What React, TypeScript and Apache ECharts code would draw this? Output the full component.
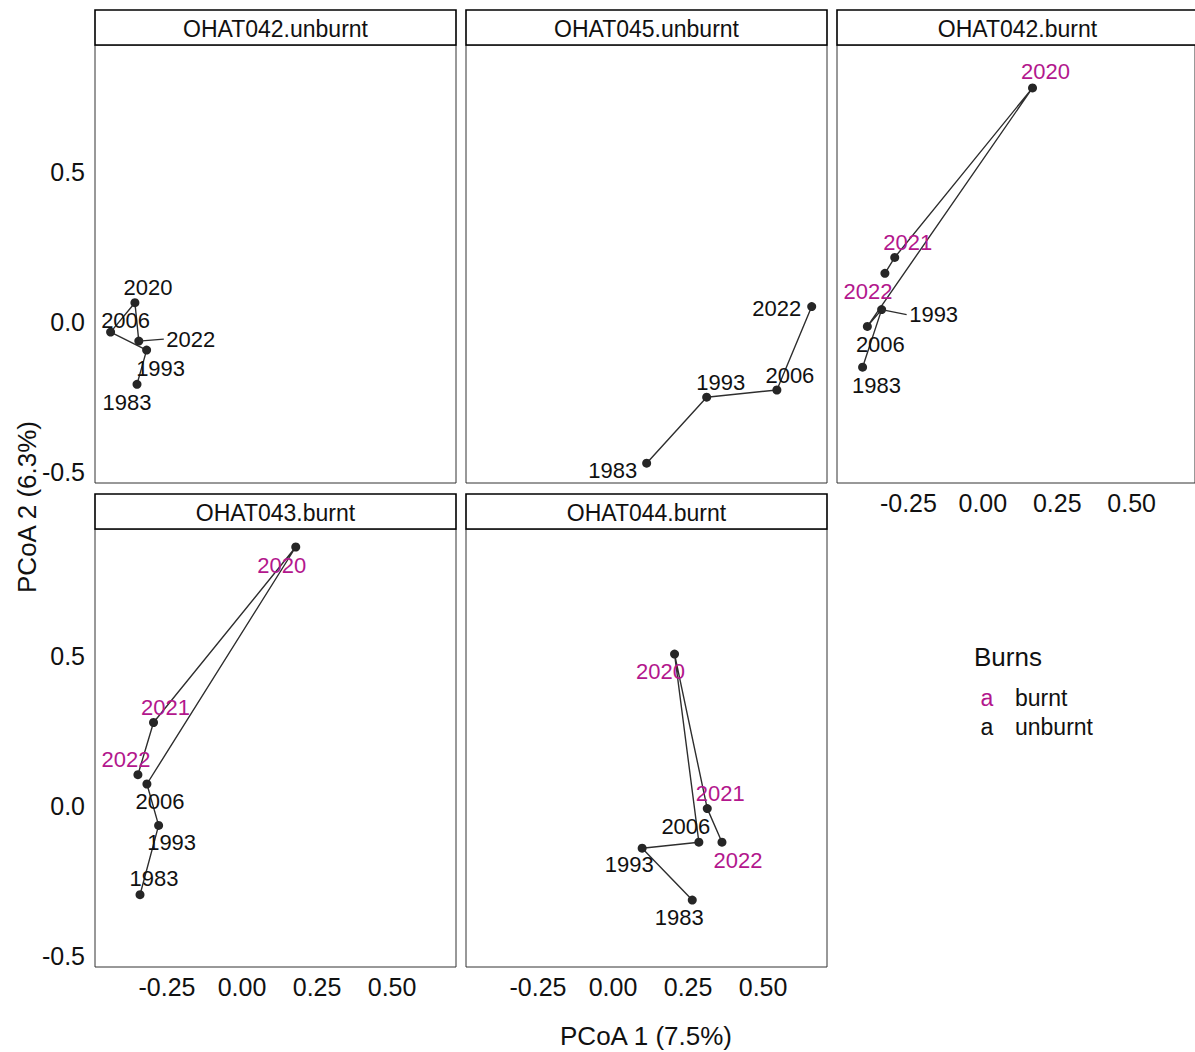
import React, { useEffect, useRef } from "react";
import * as echarts from "echarts";

// ---- data ----
const years = ["1983", "1993", "2006", "2020", "2021", "2022"];

const panelNames = [
  "OHAT042.unburnt",
  "OHAT045.unburnt",
  "OHAT042.burnt",
  "OHAT043.burnt",
  "OHAT044.burnt",
];

// PCoA 1 per panel, aligned with years (null = year not sampled)
const pc1_OHAT042_unburnt = [-0.35, -0.318, -0.438, -0.357, null, -0.344];
const pc1_OHAT045_unburnt = [0.112, 0.312, 0.546, null, null, 0.662];
const pc1_OHAT042_burnt = [-0.404, -0.34, -0.388, 0.167, -0.296, -0.329];
const pc1_OHAT043_burnt = [-0.34, -0.278, -0.317, 0.179, -0.295, -0.347];
const pc1_OHAT044_burnt = [0.264, 0.097, 0.286, 0.205, 0.314, 0.363];

// PCoA 2 per panel
const pc2_OHAT042_unburnt = [-0.208, -0.094, -0.034, 0.064, null, -0.064];
const pc2_OHAT045_unburnt = [-0.471, -0.251, -0.227, null, null, 0.051];
const pc2_OHAT042_burnt = [-0.151, 0.041, -0.015, 0.78, 0.215, 0.162];
const pc2_OHAT043_burnt = [-0.296, -0.065, 0.073, 0.863, 0.278, 0.104];
const pc2_OHAT044_burnt = [-0.314, -0.141, -0.121, 0.506, -0.009, -0.121];

// Burn status per panel and year
const burns_unburntSite = ["unburnt", "unburnt", "unburnt", "unburnt", "unburnt", "unburnt"];
const burns_burntSite = ["unburnt", "unburnt", "unburnt", "burnt", "burnt", "burnt"];

const xTicks = [-0.25, 0, 0.25, 0.5];
const yTicks = [-0.5, 0, 0.5];
const legendLabels = ["burnt", "unburnt"];

// ---- layout / style (not data) ----
const labelOffsets: (number[] | null)[][] = [
  [[-10, 18], [14, 18], [15, -12], [13, -15], null, [52, -2]],
  [[-34, 7], [14, -15], [13, -15], null, null, [-35, 2]],
  [[14, 18], [52, 5], [13, 18], [13, -16], [13, -15], [-17, 18]],
  [[14, -16], [13, 17], [13, 17], [-14, 18], [12, -15], [-12, -15]],
  [[-13, 17], [-13, 16], [-13, -16], [-14, 17], [13, -15], [16, 18]],
];
const segmentLabels = [[5], [], [1], [], []];

const FONT = "'Liberation Sans', Arial, Helvetica, sans-serif";
const MAGENTA = "#B3178D";
const TEXT = "#111111";
const colLeft = [95, 466, 837];
const rowTop = [45, 529];
const PW = 361;
const PH = 438;
const STRIP_H = 35;
const XMIN = -0.49, XMAX = 0.713, YMIN = -0.537, YMAX = 0.923;

const panelPos = [
  [0, 0],
  [1, 0],
  [2, 0],
  [0, 1],
  [1, 1],
];
const showY = [true, false, false, true, false];
const showX = [false, false, true, true, true];

export default function App() {
  const ref = useRef<HTMLDivElement>(null);

  useEffect(() => {
    if (!ref.current) return;
    const chart = echarts.init(ref.current, undefined, { renderer: "svg" });

    const pc1 = [pc1_OHAT042_unburnt, pc1_OHAT045_unburnt, pc1_OHAT042_burnt, pc1_OHAT043_burnt, pc1_OHAT044_burnt];
    const pc2 = [pc2_OHAT042_unburnt, pc2_OHAT045_unburnt, pc2_OHAT042_burnt, pc2_OHAT043_burnt, pc2_OHAT044_burnt];
    const burns = [burns_unburntSite, burns_unburntSite, burns_burntSite, burns_burntSite, burns_burntSite];

    const grids: any[] = [];
    const xAxes: any[] = [];
    const yAxes: any[] = [];
    const series: any[] = [];
    const graphics: any[] = [];

    panelNames.forEach((name, p) => {
      const [c, r] = panelPos[p];
      const left = colLeft[c];
      const top = rowTop[r];
      grids.push({
        left,
        top,
        width: PW,
        height: PH,
        show: true,
        borderColor: "#333",
        borderWidth: 1,
        backgroundColor: "transparent",
        containLabel: false,
      });
      xAxes.push({
        type: "value",
        gridIndex: p,
        min: XMIN,
        max: XMAX,
        axisLine: { show: false },
        axisTick: { show: false },
        splitLine: { show: false },
        axisLabel: {
          show: showX[p],
          customValues: xTicks,
          formatter: (v: number) => v.toFixed(2),
          fontSize: 25,
          fontFamily: FONT,
          color: TEXT,
          margin: 7,
        },
      });
      yAxes.push({
        type: "value",
        gridIndex: p,
        min: YMIN,
        max: YMAX,
        axisLine: { show: false },
        axisTick: { show: false },
        splitLine: { show: false },
        axisLabel: {
          show: showY[p],
          customValues: yTicks,
          formatter: (v: number) => v.toFixed(1),
          fontSize: 25,
          fontFamily: FONT,
          color: TEXT,
          margin: 10,
        },
      });

      const pts: any[] = [];
      years.forEach((yr, i) => {
        const x = pc1[p][i];
        const y = pc2[p][i];
        if (x === null || y === null) return;
        pts.push({ value: [x, y, i] });
      });

      series.push({
        type: "line",
        xAxisIndex: p,
        yAxisIndex: p,
        data: pts.map((d) => d.value),
        symbol: "circle",
        symbolSize: 9,
        showSymbol: true,
        lineStyle: { color: "#2e2e2e", width: 1.4 },
        itemStyle: { color: "#262626" },
        silent: true,
        z: 2,
      });

      series.push({
        type: "custom",
        xAxisIndex: p,
        yAxisIndex: p,
        data: pts.map((d) => d.value),
        clip: false,
        silent: true,
        z: 5,
        renderItem: (params: any, api: any) => {
          const pt = api.coord([api.value(0), api.value(1)]);
          const i = api.value(2);
          const off = labelOffsets[p][i] || [0, -15];
          const children: any[] = [];
          if (segmentLabels[p].indexOf(i) >= 0) {
            children.push({
              type: "line",
              shape: { x1: pt[0], y1: pt[1], x2: pt[0] + off[0] - 27, y2: pt[1] + off[1] },
              style: { stroke: "#2e2e2e", lineWidth: 1.4 },
            });
          }
          children.push({
            type: "text",
            style: {
              text: years[i],
              x: pt[0] + off[0],
              y: pt[1] + off[1],
              fill: burns[p][i] === "burnt" ? MAGENTA : TEXT,
              fontSize: 22,
              fontFamily: FONT,
              align: "center",
              verticalAlign: "middle",
            },
          });
          return { type: "group", children };
        },
      });

      // strip
      graphics.push({
        type: "rect",
        shape: { x: left, y: top - STRIP_H, width: PW, height: STRIP_H },
        style: { fill: "#ffffff", stroke: "#000000", lineWidth: 1.6 },
        z: 10,
      });
      graphics.push({
        type: "text",
        x: left + PW / 2,
        y: top - STRIP_H / 2 + 1,
        style: {
          text: name,
          fontSize: 23,
          fontFamily: FONT,
          fill: TEXT,
          align: "center",
          verticalAlign: "middle",
        },
        z: 11,
      });
    });

    // axis titles
    graphics.push({
      type: "text",
      x: 646,
      y: 1036,
      style: { text: "PCoA 1 (7.5%)", fontSize: 26, fontFamily: FONT, fill: TEXT, align: "center", verticalAlign: "middle" },
    });
    graphics.push({
      type: "text",
      x: 27,
      y: 507,
      rotation: Math.PI / 2,
      style: { text: "PCoA 2 (6.3%)", fontSize: 26, fontFamily: FONT, fill: TEXT, align: "center", verticalAlign: "middle" },
    });

    // legend
    graphics.push({
      type: "text",
      x: 974,
      y: 657,
      style: { text: "Burns", fontSize: 26, fontFamily: FONT, fill: TEXT, align: "left", verticalAlign: "middle" },
    });
    legendLabels.forEach((lab, k) => {
      const y = 698 + k * 29;
      graphics.push({
        type: "text",
        x: 987,
        y,
        style: { text: "a", fontSize: 23, fontFamily: FONT, fill: lab === "burnt" ? MAGENTA : TEXT, align: "center", verticalAlign: "middle" },
      });
      graphics.push({
        type: "text",
        x: 1015,
        y,
        style: { text: lab, fontSize: 23, fontFamily: FONT, fill: TEXT, align: "left", verticalAlign: "middle" },
      });
    });

    chart.setOption({
      animation: false,
      backgroundColor: "#ffffff",
      grid: grids,
      xAxis: xAxes,
      yAxis: yAxes,
      series,
      graphic: graphics,
    });

    return () => chart.dispose();
  }, []);

  return (
    <div
      ref={ref}
      style={{ position: "absolute", left: 0, top: 0, width: 1195, height: 1052 }}
    />
  );
}
